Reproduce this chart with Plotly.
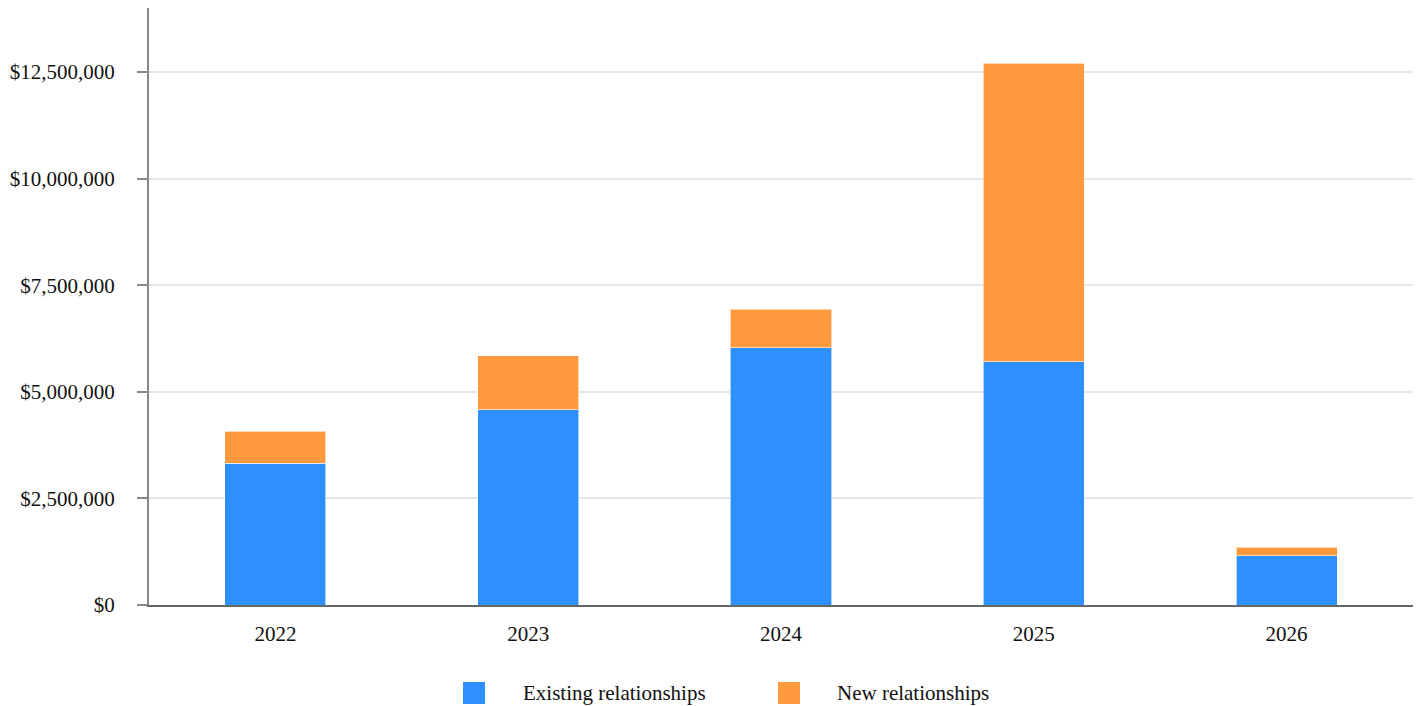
import plotly.graph_objects as go

years = ["2022", "2023", "2024", "2025", "2026"]
existing = [3323000, 4580000, 6035000, 5706000, 1157000]
new_rel = [750000, 1260000, 900000, 6994000, 196000]
series_names = ["Existing relationships", "New relationships"]
colors = ["#2e90ff", "#ff993d"]
y_ticks = [0, 2500000, 5000000, 7500000, 10000000, 12500000]
y_tick_text = ["$0", "$2,500,000", "$5,000,000", "$7,500,000", "$10,000,000", "$12,500,000"]

FONT = "Liberation Serif"
FS = 21

fig = go.Figure()
for name, vals, col in zip(series_names, [existing, new_rel], colors):
    fig.add_trace(go.Bar(
        x=years, y=vals, name=name, width=0.4,
        marker=dict(color=col, line=dict(color="rgba(255,255,255,0.6)", width=1)),
        showlegend=False,
    ))

W, H = 1418, 706
L, R, T, B = 149, 5, 8, 101
pw, ph = W - L - R, H - T - B

def px_x(x):
    return (x - L) / pw

def px_y(y):
    return (H - B - y) / ph

shapes = []
annotations = []
legend_items = [(463, 521), (778, 835)]
for (sx, tx), name, col in zip(legend_items, series_names, colors):
    shapes.append(dict(type="rect", xref="paper", yref="paper",
                       x0=px_x(sx), x1=px_x(sx + 22), y0=px_y(682), y1=px_y(704),
                       fillcolor=col, line=dict(width=0)))
    annotations.append(dict(xref="paper", yref="paper", x=px_x(tx), y=px_y(693),
                            xanchor="left", yanchor="middle", text=name, showarrow=False,
                            font=dict(family=FONT, size=FS, color="#111")))

fig.update_layout(
    barmode="stack",
    width=W, height=H,
    margin=dict(l=L, r=R, t=T, b=B),
    paper_bgcolor="white", plot_bgcolor="white",
    font=dict(family=FONT, size=FS, color="#111"),
    shapes=shapes, annotations=annotations,
)
fig.update_yaxes(
    range=[0, 14000000], tickvals=y_ticks, ticktext=y_tick_text,
    showgrid=True, gridcolor="#e6e6e6", gridwidth=2,
    showline=True, linecolor="#888", linewidth=2,
    ticks="outside", ticklen=10, tickcolor="#888", tickwidth=2,
    ticklabelstandoff=18, zeroline=False,
)
fig.update_xaxes(
    showline=True, linecolor="#666", linewidth=2,
    showgrid=False, ticks="", ticklabelstandoff=9,
)

fig.write_html("out.html")
